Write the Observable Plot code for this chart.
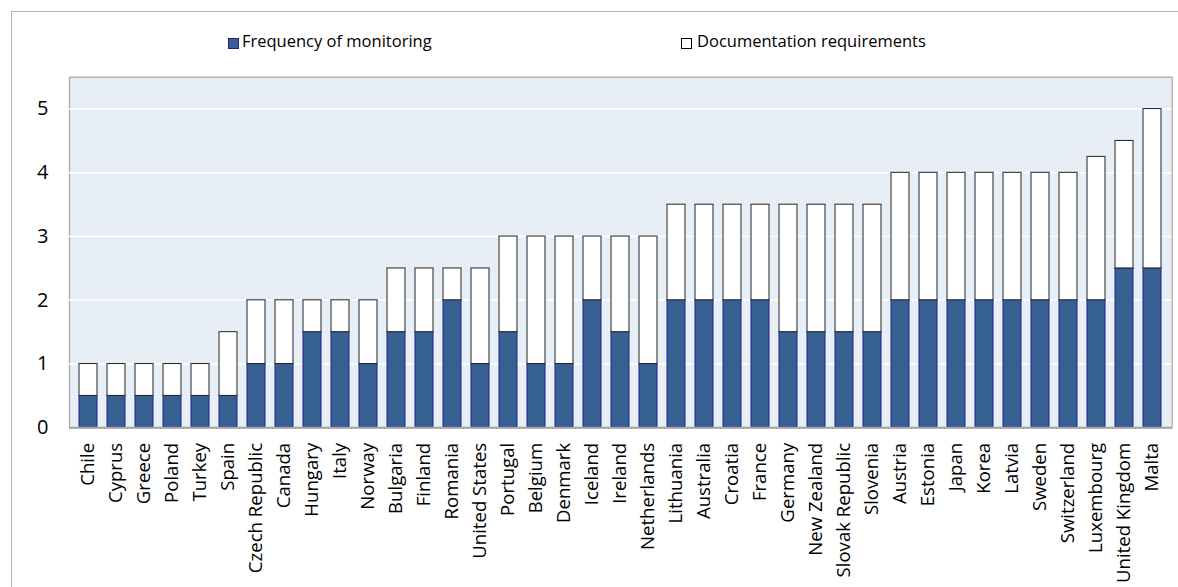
<!DOCTYPE html>
<html>
<head>
<meta charset="utf-8">
<script src="https://cdn.jsdelivr.net/npm/d3@7"></script>
<script src="https://cdn.jsdelivr.net/npm/@observablehq/plot@0.6"></script>
<style>
  html, body { margin: 0; padding: 0; background: #fff; }
  #wrap { position: relative; width: 1178px; height: 587px; overflow: hidden; font-family: "Open Sans", sans-serif; }
  #frame { position: absolute; left: 11px; top: 11px; width: 1200px; height: 600px; border-left: 1.5px solid #B3B3B3; border-top: 1.5px solid #B3B3B3; }
  .leg { position: absolute; font-size: 16.5px; line-height: 20px; color: #000; white-space: nowrap; }
  .sw { position: absolute; }
  #chart { position: absolute; left: 0; top: 60px; }
</style>
</head>
<body>
<div id="wrap">
  <div id="frame"></div>
  <div class="sw" style="left:228px; top:38px; background:#376092; border:1px solid #1F1F8F; box-sizing:border-box; width:11px; height:11px;"></div>
  <div class="leg" style="left:242px; top:30.5px;">Frequency of monitoring</div>
  <div class="sw" style="left:681px; top:38px; background:#fff; border:1px solid #000; box-sizing:border-box; width:11px; height:11px;"></div>
  <div class="leg" style="left:697px; top:30.5px;">Documentation requirements</div>
  <div id="chart"></div>
</div>
<script>
const countries = ["Chile","Cyprus","Greece","Poland","Turkey","Spain","Czech Republic","Canada","Hungary","Italy","Norway","Bulgaria","Finland","Romania","United States","Portugal","Belgium","Denmark","Iceland","Ireland","Netherlands","Lithuania","Australia","Croatia","France","Germany","New Zealand","Slovak Republic","Slovenia","Austria","Estonia","Japan","Korea","Latvia","Sweden","Switzerland","Luxembourg","United Kingdom","Malta"];
const monitoring = [0.5,0.5,0.5,0.5,0.5,0.5,1,1,1.5,1.5,1,1.5,1.5,2,1,1.5,1,1,2,1.5,1,2,2,2,2,1.5,1.5,1.5,1.5,2,2,2,2,2,2,2,2,2.5,2.5];
const documentation = [0.5,0.5,0.5,0.5,0.5,1,1,1,0.5,0.5,1,1,1,0.5,1.5,1.5,2,2,1,1.5,2,1.5,1.5,1.5,1.5,2,2,2,2,2,2,2,2,2,2,2,2.25,2,2.5];
const yTicks = [0,1,2,3,4,5];
const seriesNames = ["Frequency of monitoring","Documentation requirements"];

const rows = countries.map((c, i) => ({country: c, mon: monitoring[i], doc: documentation[i]}));

const chart = Plot.plot({
  width: 1178,
  height: 527,
  marginLeft: 69,
  marginRight: 6.3,
  marginTop: 16.7,
  marginBottom: 159.7,
  style: {fontFamily: "'Open Sans', sans-serif", fontSize: "18.6px", color: "#000", background: "transparent"},
  x: {domain: countries, paddingInner: 0.34, paddingOuter: 0.17, label: null},
  y: {domain: [0, 5.5], ticks: yTicks, label: null},
  marks: [
    Plot.frame({fill: "#E8EEF6", stroke: "#A6A6A6", strokeWidth: 1.2}),
    Plot.ruleY(yTicks.filter(d => d > 0), {stroke: "#fff", strokeWidth: 1.5}),
    Plot.barY(rows, {x: "country", y1: 0, y2: "mon", fill: "#376092", stroke: "#1F1F8F", strokeWidth: 1, title: d => seriesNames[0]}),
    Plot.barY(rows, {x: "country", y1: "mon", y2: d => d.mon + d.doc, fill: "#fff", stroke: "#222", strokeWidth: 1, title: d => seriesNames[1]}),
    Plot.ruleY([0], {stroke: "#A6A6A6", strokeWidth: 2}),
    Plot.axisY({ticks: yTicks, tickFormat: d => String(d), tickSize: 0, tickPadding: 21, fontSize: "20px"}),
    Plot.axisX({tickSize: 0, tickRotate: -90, tickPadding: 15, fontSize: "18.6px"})
  ]
});
document.getElementById("chart").appendChild(chart);
</script>
</body>
</html>
